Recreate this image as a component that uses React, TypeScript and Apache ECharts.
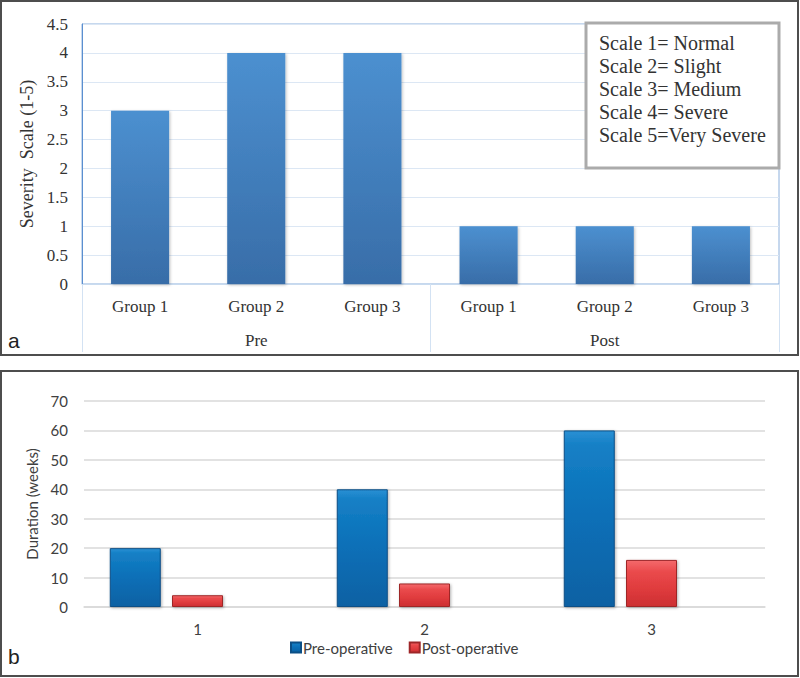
import React, { useEffect, useRef } from "react";
import * as echarts from "echarts";

// Panel a
const groupLabels = ["Group 1", "Group 2", "Group 3", "Group 1", "Group 2", "Group 3"];
const phaseLabels = ["Pre", "Post"];
const severityValues = [3, 4, 4, 1, 1, 1];
const severityTicks = { min: 0, max: 4.5, interval: 0.5 };
const scaleNotes = [
  "Scale 1= Normal",
  "Scale 2= Slight",
  "Scale 3= Medium",
  "Scale 4= Severe",
  "Scale 5=Very Severe",
];

// Panel b
const patientCategories = ["1", "2", "3"];
const preOperative = [20, 40, 60];
const postOperative = [4, 8, 16];
const durationTicks = { min: 0, max: 70, interval: 10 };

const SERIF = "'Liberation Serif', 'Times New Roman', serif";
const SANS = "Lato, 'Open Sans', sans-serif";

export default function App() {
  const ref = useRef<HTMLDivElement>(null);

  useEffect(() => {
    if (!ref.current) return;
    const chart = echarts.init(ref.current, null, { renderer: "svg" });

    const blueGrad = new echarts.graphic.LinearGradient(0, 0, 0, 1, [
      { offset: 0, color: "#4c90d0" },
      { offset: 1, color: "#386da8" },
    ]);
    const preGrad = new echarts.graphic.LinearGradient(0, 0, 0, 1, [
      { offset: 0, color: "#2a90d4" },
      { offset: 0.08, color: "#1580c6" },
      { offset: 0.5, color: "#0a6fb7" },
      { offset: 1, color: "#0961a3" },
    ]);
    const postGrad = new echarts.graphic.LinearGradient(0, 0, 0, 1, [
      { offset: 0, color: "#f46a6c" },
      { offset: 0.25, color: "#ea4a4c" },
      { offset: 0.6, color: "#e03c3e" },
      { offset: 1, color: "#cc2f32" },
    ]);

    const option: any = {
      animation: false,
      backgroundColor: "#ffffff",
      grid: [
        {
          left: 82,
          right: 21,
          top: 24,
          bottom: 394,
          show: true,
          borderColor: "#8db0dc",
          borderWidth: 1,
        },
        {
          left: 84,
          right: 35,
          top: 401,
          bottom: 71,
        },
      ],
      xAxis: [
        {
          type: "category",
          gridIndex: 0,
          data: groupLabels,
          axisLine: { show: true, lineStyle: { color: "#c9dbef" } },
          axisTick: { show: false },
          axisLabel: {
            margin: 14,
            fontFamily: SERIF,
            fontSize: 17,
            color: "#333333",
          },
        },
        {
          type: "category",
          gridIndex: 0,
          position: "bottom",
          data: phaseLabels,
          axisLine: { show: false },
          axisTick: {
            show: true,
            length: 68,
            lineStyle: { color: "#d3e2f3", width: 1 },
          },
          axisLabel: {
            margin: 48,
            fontFamily: SERIF,
            fontSize: 17,
            color: "#333333",
          },
        },
        {
          type: "category",
          gridIndex: 1,
          data: patientCategories,
          axisLine: { show: true, lineStyle: { color: "#d9d9d9", width: 1.5 } },
          axisTick: { show: false },
          axisLabel: {
            margin: 14,
            fontFamily: SANS,
            fontSize: 15,
            color: "#404040",
          },
        },
      ],
      yAxis: [
        {
          type: "value",
          gridIndex: 0,
          min: severityTicks.min,
          max: severityTicks.max,
          interval: severityTicks.interval,
          name: "Severity  Scale (1-5)",
          nameLocation: "middle",
          nameGap: 36,
          nameTextStyle: { fontFamily: SERIF, fontSize: 18, color: "#333333" },
          axisLine: { show: true, lineStyle: { color: "#5b8fd0", width: 1 } },
          axisTick: { show: false },
          axisLabel: {
            margin: 14,
            fontFamily: SERIF,
            fontSize: 17,
            color: "#333333",
            formatter: (v: number) => String(v),
          },
          splitLine: { lineStyle: { color: "#dce7f4", width: 1 } },
        },
        {
          type: "value",
          gridIndex: 1,
          min: durationTicks.min,
          max: durationTicks.max,
          interval: durationTicks.interval,
          name: "Duration (weeks)",
          nameLocation: "middle",
          nameGap: 38,
          nameTextStyle: { fontFamily: SANS, fontSize: 15, color: "#404040" },
          axisLine: { show: false },
          axisTick: { show: false },
          axisLabel: {
            margin: 16,
            fontFamily: SANS,
            fontSize: 15,
            color: "#404040",
          },
          splitLine: { lineStyle: { color: "#d9d9d9", width: 1.5 } },
        },
      ],
      legend: {
        data: ["Pre-operative", "Post-operative"],
        left: 285,
        top: 635,
        icon: "rect",
        itemWidth: 10,
        itemHeight: 10,
        itemGap: 16,
        textStyle: { fontFamily: SANS, fontSize: 15, color: "#404040", padding: [0, 0, 0, -3] },
      },
      series: [
        {
          name: "Severity",
          type: "bar",
          xAxisIndex: 0,
          yAxisIndex: 0,
          data: severityValues,
          barWidth: "50%",
          itemStyle: {
            color: blueGrad,
            shadowColor: "rgba(0,0,0,0.25)",
            shadowBlur: 3,
            shadowOffsetX: 1,
            shadowOffsetY: 1,
          },
        },
        {
          name: "Pre-operative",
          type: "bar",
          xAxisIndex: 2,
          yAxisIndex: 1,
          data: preOperative,
          barWidth: 51,
          barGap: "22%",
          itemStyle: {
            color: preGrad,
            borderColor: "#0b4f86",
            borderWidth: 1,
            shadowColor: "rgba(0,0,0,0.3)",
            shadowBlur: 3,
            shadowOffsetX: 1,
            shadowOffsetY: 1,
          },
        },
        {
          name: "Post-operative",
          type: "bar",
          xAxisIndex: 2,
          yAxisIndex: 1,
          data: postOperative,
          barWidth: 51,
          barGap: "22%",
          itemStyle: {
            color: postGrad,
            borderColor: "#9e2628",
            borderWidth: 1,
            shadowColor: "rgba(0,0,0,0.3)",
            shadowBlur: 3,
            shadowOffsetX: 1,
            shadowOffsetY: 1,
          },
        },
        {
          name: "(empty)",
          type: "bar",
          xAxisIndex: 2,
          yAxisIndex: 1,
          data: patientCategories.map(() => null),
          barWidth: 51,
          barGap: "22%",
        },
      ],
      graphic: [
        {
          type: "rect",
          shape: { x: 1, y: 1, width: 797, height: 354 },
          style: { fill: "none", stroke: "#4d4d4d", lineWidth: 2 },
          silent: true,
        },
        {
          type: "rect",
          shape: { x: 1, y: 371, width: 797, height: 305 },
          style: { fill: "none", stroke: "#4d4d4d", lineWidth: 2 },
          silent: true,
        },
        {
          type: "rect",
          shape: { x: 586, y: 23, width: 193, height: 145 },
          style: { fill: "#ffffff", stroke: "#ababab", lineWidth: 3 },
          z: 100,
        },
        ...scaleNotes.map((t, i) => ({
          type: "text",
          x: 599,
          y: 43 + i * 23,
          z: 101,
          style: {
            text: t,
            fontFamily: SERIF,
            fontSize: 20,
            fill: "#333333",
            verticalAlign: "middle",
          },
        })),
        {
          type: "text",
          x: 8,
          y: 340,
          style: {
            text: "a",
            fontFamily: "'Liberation Sans', Arial, sans-serif",
            fontSize: 21,
            fill: "#222222",
            verticalAlign: "middle",
          },
        },
        {
          type: "text",
          x: 8,
          y: 656,
          style: {
            text: "b",
            fontFamily: "'Liberation Sans', Arial, sans-serif",
            fontSize: 21,
            fill: "#222222",
            verticalAlign: "middle",
          },
        },
      ],
    };

    chart.setOption(option);
    return () => chart.dispose();
  }, []);

  return (
    <div
      ref={ref}
      style={{ position: "fixed", left: 0, top: 0, width: 800, height: 678 }}
    />
  );
}
